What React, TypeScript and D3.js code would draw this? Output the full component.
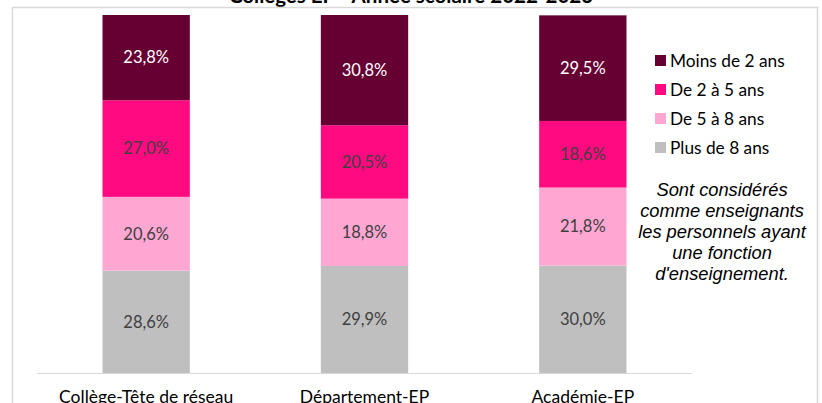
import React from "react";
import * as d3 from "d3";

const W = 822;
const H = 403;

const categories = ["Collège-Tête de réseau", "Département-EP", "Académie-EP"];
const seriesNames = ["Plus de 8 ans", "De 5 à 8 ans", "De 2 à 5 ans", "Moins de 2 ans"];
const plus8 = [28.6, 29.9, 30.0];
const de5a8 = [20.6, 18.8, 21.8];
const de2a5 = [27.0, 20.5, 18.6];
const moins2 = [23.8, 30.8, 29.5];
const colors = ["#bfbfbf", "#ffa7d3", "#ff0a80", "#660033"];
const labelColors = ["#404040", "#404040", "#404040", "#ffffff"];
const noteLines = [
  "Sont considérés",
  "comme enseignants",
  "les personnels ayant",
  "une fonction",
  "d'enseignement.",
];
const title = "Collèges EP - Année scolaire 2022-2023";

const FONT = "Lato, 'Open Sans', sans-serif";

export default function App() {
  const rows = categories.map((c, i) => ({
    cat: c,
    "Plus de 8 ans": plus8[i],
    "De 5 à 8 ans": de5a8[i],
    "De 2 à 5 ans": de2a5[i],
    "Moins de 2 ans": moins2[i],
  }));
  const stacked = d3.stack<any>().keys(seriesNames)(rows);

  const x = d3
    .scaleBand()
    .domain(categories)
    .range([37, 692])
    .paddingInner(0.6)
    .paddingOuter(0.3);
  const y = d3.scaleLinear().domain([0, 100]).range([373, 15]);

  const fmt = (v: number) => v.toFixed(1).replace(".", ",") + "%";

  // legend is listed top-down from the last series
  const legendItems = seriesNames.map((n, i) => ({ n, c: colors[i] })).reverse();

  return (
    <svg
      width={W}
      height={H}
      style={{ position: "absolute", left: 0, top: 0, background: "#fff" }}
    >
      <text
        x={411}
        y={3}
        textAnchor="middle"
        fontFamily={FONT}
        fontWeight="bold"
        fontSize={20.5}
        fill="#000"
      >
        {title}
      </text>
      <rect x={12.5} y={7.5} width={805} height={400} fill="none" stroke="#d9d9d9" strokeWidth={1.5} />

      {stacked.map((s, si) => (
        <g key={s.key}>
          {s.map((d, i) => (
            <rect
              key={i}
              x={x(categories[i])}
              y={y(d[1])}
              width={x.bandwidth()}
              height={y(d[0]) - y(d[1])}
              fill={colors[si]}
            />
          ))}
          {s.map((d, i) => (
            <text
              key={"t" + i}
              x={(x(categories[i]) as number) + x.bandwidth() / 2}
              y={(y(d[0]) + y(d[1])) / 2}
              dy="0.35em"
              textAnchor="middle"
              fontFamily={FONT}
              fontSize={16.5}
              fill={labelColors[si]}
            >
              {fmt(d[1] - d[0])}
            </text>
          ))}
        </g>
      ))}

      <line x1={37} x2={692} y1={373.5} y2={373.5} stroke="#d9d9d9" strokeWidth={1} />
      {categories.map((c) => (
        <text
          key={c}
          x={(x(c) as number) + x.bandwidth() / 2}
          y={402.5}
          textAnchor="middle"
          fontFamily={FONT}
          fontSize={17.5}
          fill="#000"
        >
          {c}
        </text>
      ))}

      {legendItems.map((l, i) => (
        <g key={l.n} transform={`translate(655, ${55 + i * 29})`}>
          <rect x={0} y={0} width={11} height={11} fill={l.c} />
          <text x={15} y={5.5} dy="0.35em" fontFamily={FONT} fontSize={17.3} fill="#000">
            {l.n}
          </text>
        </g>
      ))}

      {noteLines.map((t, i) => (
        <text
          key={i}
          x={722}
          y={195.5 + i * 21}
          textAnchor="middle"
          fontFamily="'Liberation Sans', Arial, sans-serif"
          fontStyle="italic"
          fontSize={18.3}
          fill="#000"
        >
          {t}
        </text>
      ))}
    </svg>
  );
}
